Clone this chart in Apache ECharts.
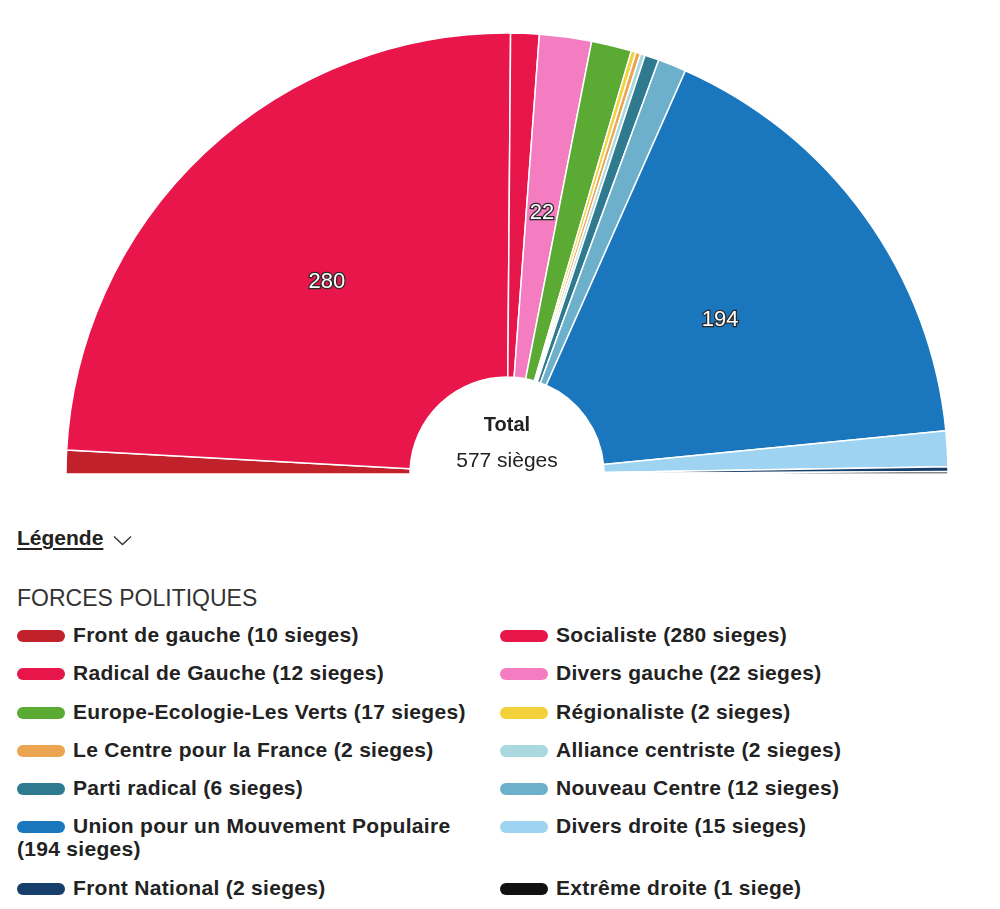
<!DOCTYPE html>
<html>
<head>
<meta charset="utf-8">
<script src="https://cdn.jsdelivr.net/npm/echarts@6/dist/echarts.min.js"></script>
<style>
  html, body { margin: 0; padding: 0; background: #fff; width: 1000px; height: 909px; overflow: hidden; font-family: "Liberation Sans", Arial, sans-serif; }
  #chart { position: absolute; left: 0; top: 0; width: 1000px; height: 490px; }
  #legendTitle { position: absolute; left: 17px; top: 526px; font-size: 21px; font-weight: bold; color: #222; line-height: 23px; white-space: nowrap; }
  #legendTitle span.t { text-decoration: underline; text-decoration-thickness: 2px; text-underline-offset: 3px; }
  #legendTitle svg { margin-left: 10px; vertical-align: -1px; }
  #forces { position: absolute; left: 17px; top: 586px; font-size: 23px; color: #333; line-height: 24px; white-space: nowrap; }
  #legend { position: absolute; left: 17px; top: 623px; display: grid; grid-template-columns: 483px 470px; row-gap: 15.3px; font-size: 21px; letter-spacing: 0.3px; font-weight: bold; color: #222; line-height: 23px; }
  #legend .item { width: 470px; }
  #legend .ico { display: inline-block; width: 48px; height: 12px; border-radius: 6px; margin-right: 8px; vertical-align: 0px; }
</style>
</head>
<body>
<div id="chart"></div>
<div id="legendTitle"><span class="t">Légende</span><svg width="19" height="11" viewBox="0 0 19 11"><polyline points="1,1.5 9.5,9.5 18,1.5" fill="none" stroke="#333" stroke-width="1.3"/></svg></div>
<div id="forces">FORCES POLITIQUES</div>
<div id="legend"></div>
<script>
const parties = [
  "Front de gauche", "Socialiste", "Radical de Gauche", "Divers gauche",
  "Europe-Ecologie-Les Verts", "Régionaliste", "Le Centre pour la France",
  "Alliance centriste", "Parti radical", "Nouveau Centre",
  "Union pour un Mouvement Populaire", "Divers droite", "Front National", "Extrême droite"
];
const seats = [10, 280, 12, 22, 17, 2, 2, 2, 6, 12, 194, 15, 2, 1];
const colors = [
  "#c1212b", "#e8164a", "#e6164a", "#f47cc0",
  "#5aaa33", "#f2d13a", "#eba44f",
  "#a9d9de", "#2f7a8f", "#6cb0cc",
  "#1a76bd", "#9ed4f1", "#173f6b", "#111111"
];
const totalLabel = "Total";
const totalSeats = seats.reduce((a, b) => a + b, 0);

const FONT = '"Liberation Sans", Arial, sans-serif';
const common = {
  type: 'pie',
  center: [507, 474],
  startAngle: 180,
  endAngle: 0,
  clockwise: true,
  silent: true,
  labelLine: { show: false }
};

const chart = echarts.init(document.getElementById('chart'), null, { renderer: 'canvas' });
chart.setOption({
  animation: false,
  series: [
    Object.assign({}, common, {
      radius: [97, 441],
      itemStyle: { borderColor: '#ffffff', borderWidth: 1.5 },
      label: { show: false },
      data: parties.map((p, i) => ({ name: p, value: seats[i], itemStyle: { color: colors[i] } }))
    }),
    // label layer: same data, transparent slices, labels placed slightly inward
    Object.assign({}, common, {
      radius: [97, 423],
      z: 3,
      itemStyle: { color: 'rgba(0,0,0,0)', borderWidth: 0 },
      label: {
        position: 'inside',
        color: '#ffffff',
        fontSize: 22,
        fontFamily: FONT,
        textBorderColor: '#2a2a2a',
        textBorderWidth: 2.5,
        formatter: '{c}'
      },
      data: parties.map((p, i) => ({
        name: p,
        value: seats[i],
        label: { show: seats[i] >= 20 }
      }))
    })
  ],
  graphic: [
    { type: 'text', style: { text: totalLabel, x: 507, y: 425, align: 'center', verticalAlign: 'middle', fill: '#222', font: 'bold 20px ' + FONT } },
    { type: 'text', style: { text: totalSeats + ' sièges', x: 507, y: 461, align: 'center', verticalAlign: 'middle', fill: '#222', font: '21px ' + FONT } }
  ]
});

const legend = document.getElementById('legend');
parties.forEach((p, i) => {
  const div = document.createElement('div');
  div.className = 'item';
  const ico = document.createElement('span');
  ico.className = 'ico';
  ico.style.background = colors[i];
  div.appendChild(ico);
  div.appendChild(document.createTextNode(p + ' (' + seats[i] + (seats[i] > 1 ? ' sieges' : ' siege') + ')'));
  legend.appendChild(div);
});
</script>
</body>
</html>
